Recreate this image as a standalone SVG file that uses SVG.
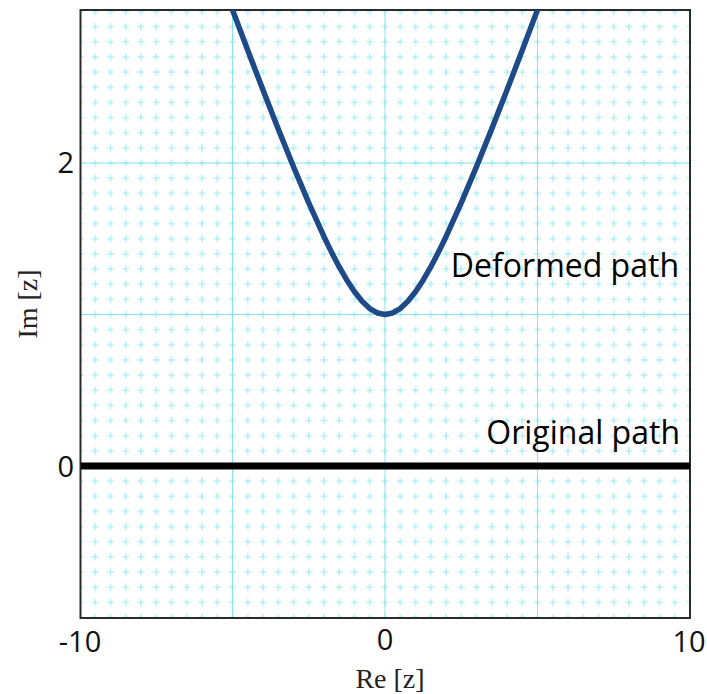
<svg xmlns="http://www.w3.org/2000/svg" width="707" height="694" viewBox="0 0 707 694">
<style>
.tick{font-family:"Open Sans","Liberation Sans",sans-serif;font-size:29px;fill:#111}
.lbl{font-family:"Open Sans","Liberation Sans",sans-serif;font-size:32px;fill:#000}
.ax{font-family:"Liberation Serif","DejaVu Serif",serif;font-size:28px;fill:#222}
.major{stroke:#86e6ef;stroke-width:1}
</style>
<defs>
<pattern id="minor" patternUnits="userSpaceOnUse" x="72.375" y="458.425" width="15.25" height="15.15">
<path d="M4 7.575H11.25M7.625 4V11.15" stroke="#95ebf4" stroke-width="1.1" fill="none"/>
</pattern>
<clipPath id="plot"><rect x="80.5" y="10" width="609.5" height="608"/></clipPath>
</defs>
<rect width="707" height="694" fill="#fff"/>
<g id="grid">
<rect x="80.5" y="10" width="609.5" height="608" fill="url(#minor)"/>
<g class="major">
<line x1="232.5" y1="10" x2="232.5" y2="618"/>
<line x1="385" y1="10" x2="385" y2="618"/>
<line x1="537.5" y1="10" x2="537.5" y2="618"/>
<line x1="80.5" y1="314.5" x2="690" y2="314.5"/>
<line x1="80.5" y1="163" x2="690" y2="163"/>
</g>
</g>
<g id="frame">
<rect x="80.5" y="10" width="609.5" height="608" fill="none" stroke="#2b2b2b" stroke-width="2"/>
</g>
<g id="connectors" clip-path="url(#plot)">
<line id="original-path" x1="80.5" y1="466" x2="690" y2="466" stroke="#000" stroke-width="7"/>
<polyline id="deformed-path" fill="none" stroke="#1e4a87" stroke-width="5.5" stroke-linejoin="round" stroke-linecap="round" points="228.5,-1 232.5,9.87 247.75,50.21 263,89.95 278.25,128.88 293.5,166.69 308.75,202.89 324,236.72 331.625,252.4 339.25,266.97 346.875,280.2 354.5,291.77 362.125,301.33 369.75,308.51 377.375,312.98 385,314.5 392.625,312.98 400.25,308.51 407.875,301.33 415.5,291.77 423.125,280.2 430.75,266.97 438.375,252.4 446,236.72 461.25,202.89 476.5,166.69 491.75,128.88 507,89.95 522.25,50.21 537.5,9.87 541.5,-1"/>
</g>
<g id="labels">
<text class="lbl" x="679" y="277" text-anchor="end">Deformed path</text>
<text class="lbl" x="680" y="444" text-anchor="end">Original path</text>
</g>
<g id="ticks">
<text class="tick" x="74" y="173" text-anchor="end">2</text>
<text class="tick" x="74" y="477" text-anchor="end">0</text>
<text class="tick" x="80" y="652" text-anchor="middle">-10</text>
<text class="tick" x="385" y="650" text-anchor="middle">0</text>
<text class="tick" x="689" y="652" text-anchor="middle">10</text>
</g>
<g id="axis-titles">
<text class="ax" x="390" y="688" text-anchor="middle">Re [z]</text>
<text class="ax" transform="translate(37 304) rotate(-90)" text-anchor="middle">Im [z]</text>
</g>
</svg>
